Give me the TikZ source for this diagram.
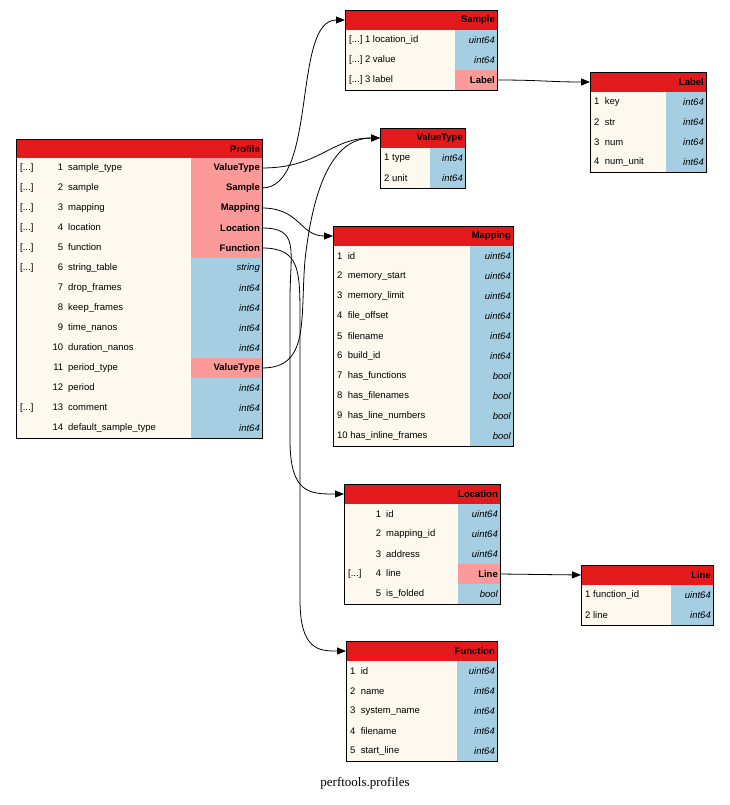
\documentclass[tikz,border=0pt]{standalone}
\usepackage{fontspec}
\setmainfont{Liberation Sans}
\newfontfamily\capfont{Liberation Serif}
\usetikzlibrary{arrows.meta}
\definecolor{hdrred}{HTML}{E31A1C}
\definecolor{cream}{HTML}{FEF9EE}
\definecolor{typeblue}{HTML}{A6CEE3}
\definecolor{linkpink}{HTML}{FB9A99}
\newlength\prew \newlength\numw
\newcommand\lt[3]{\makebox[\prew][l]{#1}\makebox[\numw][r]{#2}\hspace{5pt}#3}
% header: name, x1, x2, ytop, title
\newcommand\thead[5]{%
  \node[hdr, minimum width={(#3-#2)*1pt}] (#1) at (#2,#4) {};
  \node[anchor=east, inner sep=0pt, font=\tfont\bfseries] at ([xshift=-2pt]#1.east) {#5};}
% row: name, x1, xt, x2, ytop, left text, type text, style
\newcommand\trow[8]{%
  \fill[cream] (#2,#5) rectangle (#3,#5+20);
  \node[#8, minimum width={(#4-#3)*1pt}] (#1) at (#3,#5) {};
  \node[anchor=west, inner sep=0pt, font=\tfont] at (#2+4,#5+10) {#6};
  \node[anchor=east, inner sep=0pt, font=\tfont] at (#4-2,#5+10) {#7};}
\newcommand\tfont{\fontsize{9.5}{11}\selectfont}
\tikzset{
  cell/.style={inner sep=0pt, outer sep=0pt, anchor=north west, minimum height=20pt},
  hdr/.style={cell, fill=hdrred},
  ptype/.style={cell, fill=typeblue},
  plink/.style={cell, fill=linkpink},
  edge/.style={-{Triangle[length=9pt,width=7pt]}, line width=0.8pt},
  frame/.style={line width=0.8pt}
}
\begin{document}
\begin{tikzpicture}[x=1pt,y=-1pt]
\useasboundingbox (0,0) rectangle (729,805);
% Profile
\setlength\prew{26pt}\setlength\numw{17pt}
\thead{profile}{16}{262}{139}{Profile}
\trow{profile-1}{16}{191}{262}{158}{\lt{[...]}{1}{sample\_type}}{\bfseries ValueType}{plink}
\trow{profile-2}{16}{191}{262}{178}{\lt{[...]}{2}{sample}}{\bfseries Sample}{plink}
\trow{profile-3}{16}{191}{262}{198}{\lt{[...]}{3}{mapping}}{\bfseries Mapping}{plink}
\trow{profile-4}{16}{191}{262}{218}{\lt{[...]}{4}{location}}{\bfseries Location}{plink}
\trow{profile-5}{16}{191}{262}{238}{\lt{[...]}{5}{function}}{\bfseries Function}{plink}
\trow{profile-6}{16}{191}{262}{258}{\lt{[...]}{6}{string\_table}}{\itshape string}{ptype}
\trow{profile-7}{16}{191}{262}{278}{\lt{}{7}{drop\_frames}}{\itshape int64}{ptype}
\trow{profile-8}{16}{191}{262}{298}{\lt{}{8}{keep\_frames}}{\itshape int64}{ptype}
\trow{profile-9}{16}{191}{262}{318}{\lt{}{9}{time\_nanos}}{\itshape int64}{ptype}
\trow{profile-10}{16}{191}{262}{338}{\lt{}{10}{duration\_nanos}}{\itshape int64}{ptype}
\trow{profile-11}{16}{191}{262}{358}{\lt{}{11}{period\_type}}{\bfseries ValueType}{plink}
\trow{profile-12}{16}{191}{262}{378}{\lt{}{12}{period}}{\itshape int64}{ptype}
\trow{profile-13}{16}{191}{262}{398}{\lt{[...]}{13}{comment}}{\itshape int64}{ptype}
\trow{profile-14}{16}{191}{262}{418}{\lt{}{14}{default\_sample\_type}}{\itshape int64}{ptype}
\draw[frame] (16,139) rectangle (262,438);
% Sample
\thead{sample}{345}{497}{10}{Sample}
\trow{sample-1}{345}{455}{497}{30}{[...]\ 1\ location\_id}{\itshape uint64}{ptype}
\trow{sample-2}{345}{455}{497}{50}{[...]\ 2\ value}{\itshape int64}{ptype}
\trow{sample-3}{345}{455}{497}{70}{[...]\ 3\ label}{\bfseries Label}{plink}
\draw[frame] (345,10) rectangle (497,90);
% Label
\thead{label}{590}{706}{72}{Label}
\trow{label-1}{590}{666}{706}{92}{1\ \ key}{\itshape int64}{ptype}
\trow{label-2}{590}{666}{706}{112}{2\ \ str}{\itshape int64}{ptype}
\trow{label-3}{590}{666}{706}{132}{3\ \ num}{\itshape int64}{ptype}
\trow{label-4}{590}{666}{706}{152}{4\ \ num\_unit}{\itshape int64}{ptype}
\draw[frame] (590,72) rectangle (706,172);
% ValueType
\thead{valuetype}{380}{465}{128}{ValueType}
\trow{valuetype-1}{380}{430}{465}{148}{1\ type}{\itshape int64}{ptype}
\trow{valuetype-2}{380}{430}{465}{168}{2\ unit}{\itshape int64}{ptype}
\draw[frame] (380,128) rectangle (465,188);
% Mapping
\thead{mapping}{333}{513}{226}{Mapping}
\trow{mapping-1}{333}{470}{513}{246}{1\ \ id}{\itshape uint64}{ptype}
\trow{mapping-2}{333}{470}{513}{266}{2\ \ memory\_start}{\itshape uint64}{ptype}
\trow{mapping-3}{333}{470}{513}{286}{3\ \ memory\_limit}{\itshape uint64}{ptype}
\trow{mapping-4}{333}{470}{513}{306}{4\ \ file\_offset}{\itshape uint64}{ptype}
\trow{mapping-5}{333}{470}{513}{326}{5\ \ filename}{\itshape int64}{ptype}
\trow{mapping-6}{333}{470}{513}{346}{6\ \ build\_id}{\itshape int64}{ptype}
\trow{mapping-7}{333}{470}{513}{366}{7\ \ has\_functions}{\itshape bool}{ptype}
\trow{mapping-8}{333}{470}{513}{386}{8\ \ has\_filenames}{\itshape bool}{ptype}
\trow{mapping-9}{333}{470}{513}{406}{9\ \ has\_line\_numbers}{\itshape bool}{ptype}
\trow{mapping-10}{333}{470}{513}{426}{10\ has\_inline\_frames}{\itshape bool}{ptype}
\draw[frame] (333,226) rectangle (513,446);
% Location
\setlength\prew{24pt}\setlength\numw{9pt}
\thead{location}{344}{500}{484}{Location}
\trow{location-1}{344}{458}{500}{504}{\lt{}{1}{id}}{\itshape uint64}{ptype}
\trow{location-2}{344}{458}{500}{524}{\lt{}{2}{mapping\_id}}{\itshape uint64}{ptype}
\trow{location-3}{344}{458}{500}{544}{\lt{}{3}{address}}{\itshape uint64}{ptype}
\trow{location-4}{344}{458}{500}{564}{\lt{[...]}{4}{line}}{\bfseries Line}{plink}
\trow{location-5}{344}{458}{500}{584}{\lt{}{5}{is\_folded}}{\itshape bool}{ptype}
\draw[frame] (344,484) rectangle (500,604);
% Line
\thead{line}{581}{713}{565}{Line}
\trow{line-1}{581}{671}{713}{585}{1\ function\_id}{\itshape uint64}{ptype}
\trow{line-2}{581}{671}{713}{605}{2\ line}{\itshape int64}{ptype}
\draw[frame] (581,565) rectangle (713,625);
% Function
\thead{function}{346}{497}{641}{Function}
\trow{function-1}{346}{457}{497}{661}{1\ \ id}{\itshape uint64}{ptype}
\trow{function-2}{346}{457}{497}{681}{2\ \ name}{\itshape int64}{ptype}
\trow{function-3}{346}{457}{497}{701}{3\ \ system\_name}{\itshape int64}{ptype}
\trow{function-4}{346}{457}{497}{721}{4\ \ filename}{\itshape int64}{ptype}
\trow{function-5}{346}{457}{497}{741}{5\ \ start\_line}{\itshape int64}{ptype}
\draw[frame] (346,641) rectangle (497,761);
% edges
\draw[edge] (profile-1.east) .. controls (320,168) and (330,138) .. (valuetype.west);
\draw[edge] (profile-2.east) .. controls (318,188) and (292,20) .. (sample.west);
\draw[edge] (profile-3.east) .. controls (300,208) and (300,236) .. (mapping.west);
\draw[edge] (profile-4.east) .. controls (300,228) and (290,250) .. (290,300) -- (290,440)
  .. controls (290,494) and (310,494) .. (location.west);
\draw[edge] (profile-5.east) .. controls (300,248) and (300,270) .. (300,320) -- (300,600)
  .. controls (300,651) and (320,651) .. (function.west);
\draw[edge] (profile-11.east) .. controls (310,368) and (300,320) .. (305,260)
  .. controls (315,170) and (340,138) .. (valuetype.west);
\draw[edge] (sample-3.east) .. controls (540,80) and (550,82) .. (label.west);
\draw[edge] (location-4.east) -- (line.west);
\node[font=\capfont\fontsize{13}{15}\selectfont] (caption) at (365,783) {perftools.profiles};
\end{tikzpicture}
\end{document}
